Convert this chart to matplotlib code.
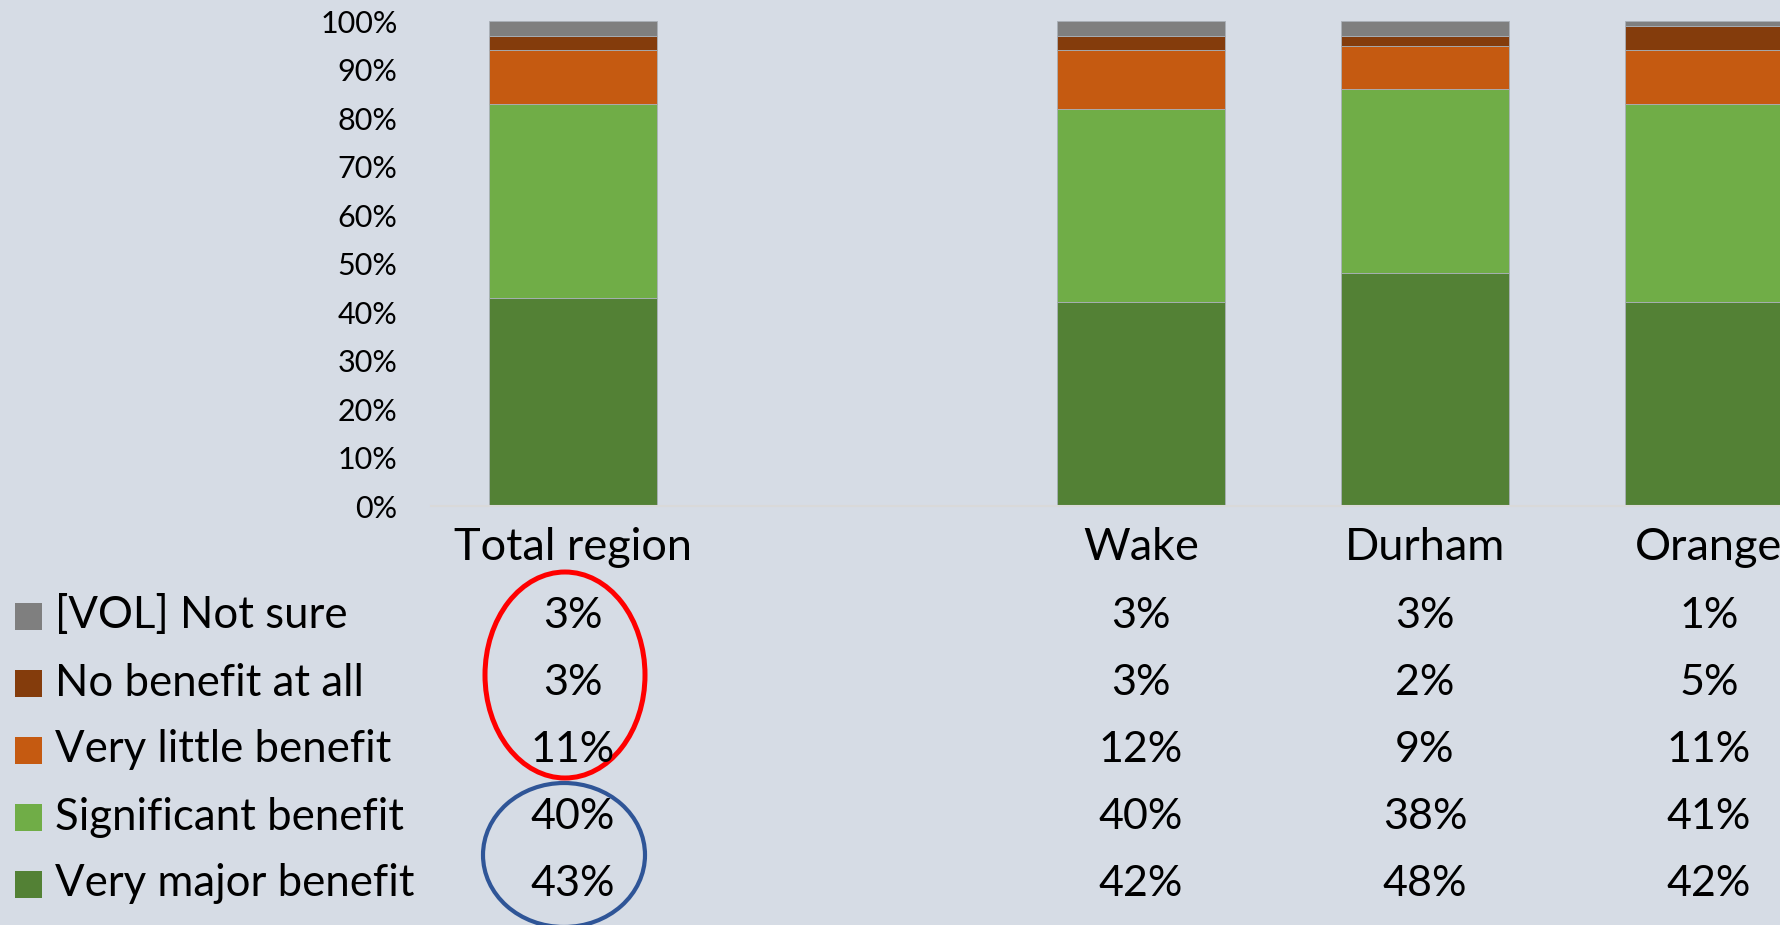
import matplotlib
matplotlib.use('Agg')
import matplotlib.pyplot as plt
from matplotlib.patches import Ellipse, Rectangle
from matplotlib.transforms import blended_transform_factory

plt.rcParams['font.family'] = ['Lato', 'DejaVu Sans']

# Données
categories = ['Total region', '', 'Wake', 'Durham', 'Orange']
series_names = ['Very major benefit', 'Significant benefit', 'Very little benefit',
                'No benefit at all', '[VOL] Not sure']
very_major = [43, None, 42, 48, 42]
significant = [40, None, 40, 38, 41]
very_little = [11, None, 12, 9, 11]
no_benefit = [3, None, 3, 2, 5]
not_sure = [3, None, 3, 3, 1]
series_values = [very_major, significant, very_little, no_benefit, not_sure]
colors = ['#538135', '#70AD47', '#C55A11', '#843C0C', '#7F7F7F']
yticks = [0, 10, 20, 30, 40, 50, 60, 70, 80, 90, 100]

bg = '#D6DCE5'
W, H = 1781, 925
fig = plt.figure(figsize=(W / 100, H / 100), dpi=100, facecolor=bg)

# axes du graphique (déborde à droite comme l'original)
ax = fig.add_axes([431 / W, 1 - 506 / H, 1420 / W, (506 - 21.3) / H])
ax.set_facecolor(bg)

x = list(range(len(categories)))
bottom = [0] * len(categories)
for vals, col in zip(series_values, colors):
    v = [0 if val is None else val for val in vals]
    ax.bar(x, v, width=0.59, bottom=bottom, color=col, edgecolor='#A9B0B8', linewidth=0.6)
    bottom = [b + val for b, val in zip(bottom, v)]

ax.set_xlim(-0.5, len(categories) - 0.5)
ax.set_ylim(0, 100)
ax.set_yticks(yticks)
ax.set_yticklabels([f'{t}%' for t in yticks], fontsize=22)
ax.tick_params(axis='y', length=0, pad=24)
ax.set_xticks([])
for s in ['top', 'right', 'left']:
    ax.spines[s].set_visible(False)
ax.spines['bottom'].set_color('#D9D9D9')
ax.spines['bottom'].set_linewidth(1.5)

# calque en pixels pour le tableau et les annotations
ov = fig.add_axes([0, 0, 1, 1], facecolor='none')
ov.set_xlim(0, W)
ov.set_ylim(H, 0)
ov.axis('off')
tr = blended_transform_factory(ax.transData, ov.transData)

# tableau de données
for i, cat in enumerate(categories):
    ov.text(i, 548, cat, transform=tr, ha='center', va='center', fontsize=32.5)

row_y = [616, 683, 750, 817, 884]
row_order = list(range(len(series_names)))[::-1]
for ry, k in zip(row_y, row_order):
    ov.add_patch(Rectangle((15, ry - 13.5), 27, 27, facecolor=colors[k], edgecolor='none'))
    ov.text(55, ry, series_names[k], ha='left', va='center', fontsize=31.5)
    for i, val in enumerate(series_values[k]):
        if val is not None:
            ov.text(i, ry, f'{val}%', transform=tr, ha='center', va='center', fontsize=31)

# ellipses
ov.add_patch(Ellipse((565, 675), 160, 206, fill=False, edgecolor='#FF0000', linewidth=3.6))
ov.add_patch(Ellipse((564, 855), 162, 144, fill=False, edgecolor='#2F5597', linewidth=3.0))

fig.savefig('out.png', dpi=100, facecolor=bg)
